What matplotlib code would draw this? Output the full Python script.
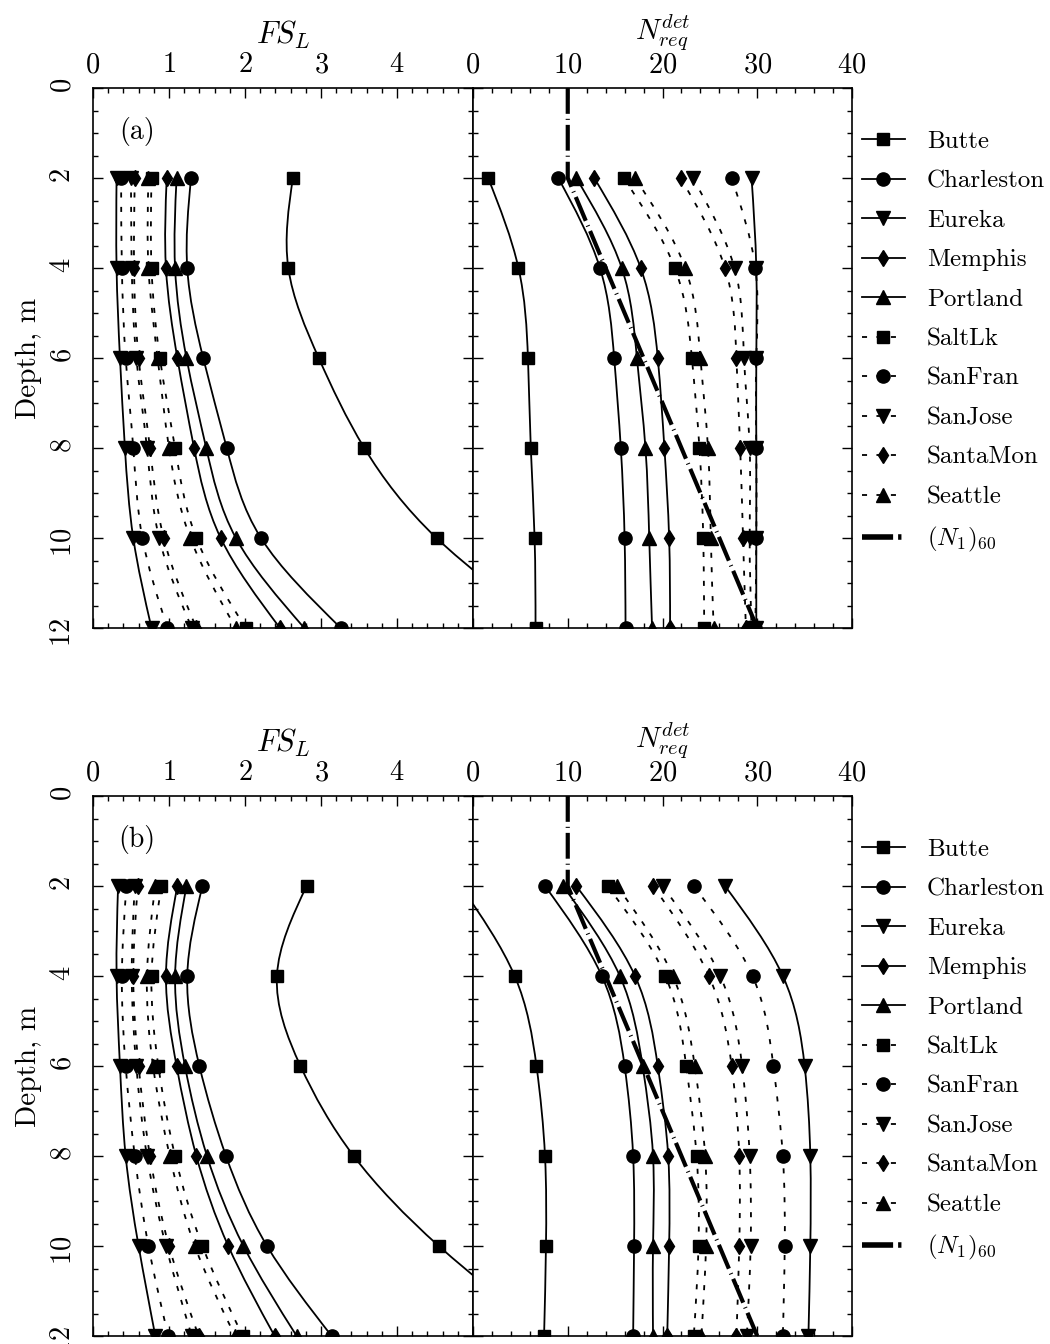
import numpy as np
import matplotlib
matplotlib.use("Agg")
import matplotlib.pyplot as plt
from matplotlib.path import Path
from matplotlib.patches import PathPatch
from matplotlib.lines import Line2D
from matplotlib.ticker import MultipleLocator, FixedLocator

plt.rcParams["font.family"] = "cmr10"
plt.rcParams["mathtext.fontset"] = "cm"
plt.rcParams["axes.formatter.use_mathtext"] = True

# ---------------------------------------------------------------- data
depth = [2, 4, 6, 8, 10, 12]
cities = ["Butte", "Charleston", "Eureka", "Memphis", "Portland",
          "SaltLk", "SanFran", "SanJose", "SantaMon", "Seattle"]

# (N1)60 profile
n160_depth = [0, 2, 12]
n160_value = [10, 10, 30]

# panel (a): factor of safety FS_L
a_fs_butte = [2.63, 2.57, 2.97, 3.57, 4.52, 6.0]
a_fs_charleston = [1.29, 1.24, 1.45, 1.76, 2.21, 3.26]
a_fs_eureka = [0.31, 0.31, 0.355, 0.42, 0.53, 0.77]
a_fs_memphis = [0.97, 0.96, 1.11, 1.33, 1.68, 2.46]
a_fs_portland = [1.10, 1.08, 1.23, 1.49, 1.88, 2.78]
a_fs_saltlk = [0.77, 0.77, 0.88, 1.08, 1.36, 2.01]
a_fs_sanfran = [0.37, 0.38, 0.43, 0.53, 0.65, 0.98]
a_fs_sanjose = [0.50, 0.51, 0.57, 0.71, 0.87, 1.30]
a_fs_santamon = [0.55, 0.54, 0.60, 0.75, 0.93, 1.36]
a_fs_seattle = [0.73, 0.73, 0.85, 1.00, 1.28, 1.88]

# panel (a): required blow count N_req^det
a_n_butte = [1.6, 4.8, 5.8, 6.1, 6.5, 6.6]
a_n_charleston = [9.0, 13.4, 14.9, 15.6, 16.0, 16.1]
a_n_eureka = [29.4, 29.9, 29.9, 29.9, 29.9, 29.9]
a_n_memphis = [12.8, 17.7, 19.5, 20.2, 20.7, 20.8]
a_n_portland = [10.9, 15.7, 17.3, 18.2, 18.6, 18.9]
a_n_saltlk = [15.9, 21.3, 23.1, 23.9, 24.3, 24.4]
a_n_sanfran = [27.3, 29.8, 29.9, 29.9, 29.9, 29.8]
a_n_sanjose = [23.2, 27.6, 28.6, 29.2, 29.2, 29.4]
a_n_santamon = [21.9, 26.6, 27.8, 28.2, 28.5, 28.8]
a_n_seattle = [17.1, 22.4, 24.0, 24.8, 25.1, 25.4]

# panel (b): factor of safety FS_L
b_fs_butte = [2.81, 2.42, 2.73, 3.43, 4.55, 6.0]
b_fs_charleston = [1.44, 1.24, 1.40, 1.75, 2.29, 3.14]
b_fs_eureka = [0.33, 0.31, 0.355, 0.43, 0.60, 0.82]
b_fs_memphis = [1.11, 0.96, 1.10, 1.36, 1.78, 2.39]
b_fs_portland = [1.23, 1.08, 1.21, 1.50, 1.98, 2.68]
b_fs_saltlk = [0.90, 0.77, 0.86, 1.08, 1.44, 1.97]
b_fs_sanfran = [0.44, 0.38, 0.43, 0.55, 0.73, 0.99]
b_fs_sanjose = [0.55, 0.51, 0.57, 0.71, 0.96, 1.30]
b_fs_santamon = [0.59, 0.53, 0.60, 0.75, 1.00, 1.39]
b_fs_seattle = [0.82, 0.71, 0.79, 1.01, 1.34, 1.87]

# panel (b): required blow count N_req^det
b_n_butte = [-1.3, 4.4, 6.7, 7.6, 7.7, 7.5]
b_n_charleston = [7.6, 13.6, 16.0, 16.9, 17.0, 16.9]
b_n_eureka = [26.6, 32.7, 35.0, 35.6, 35.6, 35.4]
b_n_memphis = [10.9, 17.1, 19.5, 20.6, 20.7, 20.5]
b_n_portland = [9.5, 15.5, 17.9, 19.0, 19.0, 19.0]
b_n_saltlk = [14.2, 20.3, 22.5, 23.6, 23.8, 23.3]
b_n_sanfran = [23.3, 29.5, 31.7, 32.7, 32.9, 32.7]
b_n_sanjose = [20.0, 26.1, 28.4, 29.2, 29.3, 28.9]
b_n_santamon = [19.0, 24.9, 27.3, 28.1, 28.1, 27.8]
b_n_seattle = [15.2, 21.1, 23.4, 24.5, 24.6, 24.1]

fs_a = [a_fs_butte, a_fs_charleston, a_fs_eureka, a_fs_memphis, a_fs_portland,
        a_fs_saltlk, a_fs_sanfran, a_fs_sanjose, a_fs_santamon, a_fs_seattle]
n_a = [a_n_butte, a_n_charleston, a_n_eureka, a_n_memphis, a_n_portland,
       a_n_saltlk, a_n_sanfran, a_n_sanjose, a_n_santamon, a_n_seattle]
fs_b = [b_fs_butte, b_fs_charleston, b_fs_eureka, b_fs_memphis, b_fs_portland,
        b_fs_saltlk, b_fs_sanfran, b_fs_sanjose, b_fs_santamon, b_fs_seattle]
n_b = [b_n_butte, b_n_charleston, b_n_eureka, b_n_memphis, b_n_portland,
       b_n_saltlk, b_n_sanfran, b_n_sanjose, b_n_santamon, b_n_seattle]

# ---------------------------------------------------------------- styles
markers = ["s", "o", "v", "d", "^"] * 2
msizes = [9, 9.5, 10, 8, 10] * 2
DASH = (0, (2.8, 5.2))
linestyles = ["-"] * 5 + [DASH] * 5
LW = 1.3
N160_LW = 3.0
N160_STYLE = (0, (6.2, 1.2, 0.25, 1.2))
N160_HANDLE = (0, (5.6, 0.9, 0.6, 3.0))


def spline_path(xv, yv):
    """Natural cubic spline x(depth) through the points, as a Bezier path."""
    x = np.asarray(xv, float)
    y = np.asarray(yv, float)
    n = len(y)
    h = np.diff(y)
    A = np.zeros((n, n))
    r = np.zeros(n)
    A[0, 0] = A[-1, -1] = 1.0
    for i in range(1, n - 1):
        A[i, i - 1] = h[i - 1]
        A[i, i] = 2 * (h[i - 1] + h[i])
        A[i, i + 1] = h[i]
        r[i] = 6 * ((x[i + 1] - x[i]) / h[i] - (x[i] - x[i - 1]) / h[i - 1])
    M = np.linalg.solve(A, r)
    m = np.empty(n)
    for i in range(n - 1):
        m[i] = (x[i + 1] - x[i]) / h[i] - h[i] * (2 * M[i] + M[i + 1]) / 6
    m[-1] = (x[-1] - x[-2]) / h[-1] + h[-1] * (M[-2] + 2 * M[-1]) / 6
    verts = [(x[0], y[0])]
    codes = [Path.MOVETO]
    for i in range(n - 1):
        verts += [(x[i] + m[i] * h[i] / 3, y[i] + h[i] / 3),
                  (x[i + 1] - m[i + 1] * h[i] / 3, y[i + 1] - h[i] / 3),
                  (x[i + 1], y[i + 1])]
        codes += [Path.CURVE4] * 3
    return Path(verts, codes)


def draw_series(ax, values):
    for vals, mk, ms, ls in zip(values, markers, msizes, linestyles):
        ax.add_patch(PathPatch(spline_path(vals, depth), fill=False,
                               edgecolor="black", lw=LW, linestyle=ls))
        ax.plot(vals, depth, linestyle="none", marker=mk, ms=ms,
                color="black", mec="black")


def style_axes(ax, xmax, majors, minor, show_ylabels):
    ax.set_xlim(0, xmax)
    ax.set_ylim(12, 0)
    ax.xaxis.set_major_locator(FixedLocator(majors))
    ax.xaxis.set_minor_locator(MultipleLocator(minor))
    ax.yaxis.set_major_locator(MultipleLocator(2))
    ax.yaxis.set_minor_locator(MultipleLocator(0.5))
    ax.tick_params(which="both", direction="in", top=True, bottom=True,
                   left=True, right=True, labeltop=True, labelbottom=False,
                   labelleft=show_ylabels, width=1.0, labelsize=20.5)
    ax.tick_params(which="major", length=7.5)
    ax.tick_params(which="minor", length=3.8)
    ax.tick_params(axis="x", pad=7)
    ax.tick_params(axis="y", labelrotation=90, pad=12)
    for sp in ax.spines.values():
        sp.set_linewidth(1.2)


W, H = 1050.0, 1344.0


def rect(x0, y0, x1, y1):
    return [x0 / W, 1 - y1 / H, (x1 - x0) / W, (y1 - y0) / H]


fig = plt.figure(figsize=(10.5, 13.44), dpi=100)

for tag, top, fs_vals, n_vals in [("(a)", 88, fs_a, n_a), ("(b)", 796, fs_b, n_b)]:
    axL = fig.add_axes(rect(93, top, 473, top + 540))
    axR = fig.add_axes(rect(473, top, 852, top + 540))

    draw_series(axL, fs_vals)
    draw_series(axR, n_vals)
    axR.plot(n160_value, n160_depth, color="black", lw=N160_LW,
             linestyle=N160_STYLE, solid_capstyle="butt")

    style_axes(axL, 5, [0, 1, 2, 3, 4], 0.2, True)
    style_axes(axR, 40, [0, 10, 20, 30, 40], 2, False)

    axL.set_xlabel("$FS_L$", fontsize=22, labelpad=6)
    axL.xaxis.set_label_position("top")
    axR.set_xlabel("$N_{req}^{det}$", fontsize=21, labelpad=9)
    axR.xaxis.set_label_position("top")
    axL.set_ylabel("Depth, m", fontsize=21, labelpad=6)
    axL.text(0.115, 0.92, tag, transform=axL.transAxes, fontsize=20,
             ha="center", va="center")

    handles = [Line2D([], [], color="black", lw=LW, linestyle=ls, marker=mk, ms=ms)
               for mk, ms, ls in zip(markers, msizes, linestyles)]
    handles.append(Line2D([], [], color="black", lw=4.0, linestyle=N160_HANDLE))
    labels = cities + ["$(N_1)_{60}$"]
    axR.legend(handles, labels, loc="upper left", bbox_to_anchor=(1.0, 0.94),
               frameon=False, fontsize=18, handlelength=1.7, handletextpad=0.9,
               labelspacing=0.68, borderaxespad=0.2, borderpad=0.2)

fig.savefig("out.png", dpi=100)
